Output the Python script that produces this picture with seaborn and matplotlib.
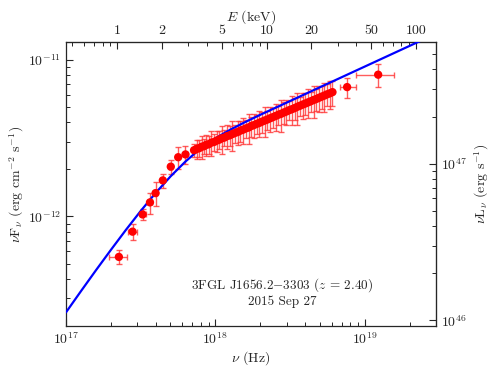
import numpy as np
import matplotlib
matplotlib.use("Agg")
import matplotlib.pyplot as plt
import matplotlib.ticker as mticker
import seaborn as sns

# low-energy points (nu in 1e17 Hz, flux in 1e-12 erg/cm2/s)
low_nu = [2.26, 2.79, 3.26, 3.65, 3.98, 4.45, 5.03, 5.64, 6.31]
low_f = [0.552, 0.800, 1.03, 1.23, 1.41, 1.70, 2.08, 2.39, 2.49]
low_ferr = [0.055, 0.095, 0.08, 0.19, 0.24, 0.18, 0.20, 0.37, 0.34]
low_nuerr = [0.32, 0.18, 0.15, 0.12, 0.10, 0.10, 0.10, 0.10, 0.10]

# dense band
band_nu = [7.2, 7.5, 7.8, 8.1, 8.4, 8.7, 9.0, 9.4, 9.8, 10.2, 10.6, 11.0, 11.5,
           12.0, 12.5, 13.0, 13.5, 14.1, 14.7, 15.3, 16.0, 16.7, 17.4, 18.1,
           18.9, 19.7, 20.5, 21.4, 22.3, 23.3, 24.3, 25.3, 26.4, 27.5, 28.7,
           29.9, 31.2, 32.5, 33.9, 35.3, 36.8, 38.4, 40.0, 41.7, 43.5, 45.4,
           47.3, 49.3, 51.4, 53.6, 55.9, 58.3, 60.8]
band_f = [2.65, 2.70, 2.73, 2.79, 2.81, 2.87, 2.89, 2.96, 2.99, 3.05, 3.09, 3.15,
          3.19, 3.26, 3.30, 3.36, 3.41, 3.46, 3.53, 3.58, 3.65, 3.70, 3.78, 3.83,
          3.90, 3.96, 4.03, 4.10, 4.16, 4.24, 4.31, 4.38, 4.46, 4.52, 4.61, 4.68,
          4.77, 4.84, 4.92, 5.01, 5.09, 5.18, 5.26, 5.35, 5.44, 5.54, 5.62, 5.72,
          5.82, 5.91, 6.02, 6.11, 6.22]
band_rel_err = [0.10, 0.14, 0.12, 0.17, 0.11, 0.15, 0.13, 0.18, 0.12, 0.16,
                0.13, 0.20, 0.12, 0.17, 0.14, 0.22, 0.13, 0.17, 0.15, 0.19,
                0.13, 0.22, 0.15, 0.17, 0.14, 0.19, 0.15, 0.22, 0.14, 0.18,
                0.15, 0.20, 0.14, 0.23, 0.16, 0.18, 0.14, 0.21, 0.16, 0.23,
                0.14, 0.19, 0.16, 0.21, 0.15, 0.23, 0.16, 0.19, 0.17, 0.21,
                0.16, 0.20, 0.18]

# high-energy points
high_nu = [76.2, 123.0]
high_f = [6.70, 8.04]
high_ferr = [1.0, 1.35]
high_nu_lo = [8.2, 35.0]
high_nu_hi = [11.8, 33.0]

# model curve (log10 nu, log10 nuFnu)
curve_lognu = [17.00, 17.10, 17.20, 17.30, 17.40, 17.50, 17.60, 17.70, 17.80,
               17.90, 18.00, 18.10, 18.20, 18.30, 18.50, 18.75, 19.00, 19.25, 19.48]
curve_logf = [-12.612, -12.477, -12.344, -12.214, -12.087, -11.965, -11.850,
              -11.744, -11.649, -11.566, -11.501, -11.446, -11.397, -11.351,
              -11.263, -11.153, -11.043, -10.933, -10.832]

kev_hz = 2.2e17
lum_factor = 4.6e58

sns.set_style("ticks")
plt.rcParams["font.family"] = "serif"
plt.rcParams["font.serif"] = ["cmr10"]
plt.rcParams["mathtext.fontset"] = "cm"
plt.rcParams["axes.unicode_minus"] = False
plt.rcParams["axes.formatter.use_mathtext"] = True

fig = plt.figure(figsize=(4.91, 3.70), dpi=100)
ax = fig.add_axes([0.1344, 0.119, 0.7536, 0.7675])

red = "#ff0000"
ecol = (1.0, 0.2, 0.2, 0.8)

# error bars
ax.errorbar(np.array(low_nu) * 1e17, np.array(low_f) * 1e-12,
            yerr=np.array(low_ferr) * 1e-12, xerr=np.array(low_nuerr) * 1e17,
            fmt="none", ecolor=ecol, elinewidth=1.0, capsize=2.2, capthick=1.0)
band_err = np.array(band_f) * np.array(band_rel_err) * 1e-12
ax.errorbar(np.array(band_nu) * 1e17, np.array(band_f) * 1e-12, yerr=band_err,
            fmt="none", ecolor=ecol, elinewidth=1.0, capsize=2.2, capthick=1.0)
ax.errorbar(np.array(high_nu) * 1e17, np.array(high_f) * 1e-12,
            yerr=np.array(high_ferr) * 1e-12,
            xerr=[np.array(high_nu_lo) * 1e17, np.array(high_nu_hi) * 1e17],
            fmt="none", ecolor=ecol, elinewidth=1.0, capsize=2.2, capthick=1.0)

# model
sns.lineplot(x=10 ** np.array(curve_lognu), y=10 ** np.array(curve_logf),
             color="#0000ff", lw=1.6, ax=ax, zorder=3, sort=False)

# markers
all_nu = np.concatenate([low_nu, band_nu, high_nu]) * 1e17
all_f = np.concatenate([low_f, band_f, high_f]) * 1e-12
sns.scatterplot(x=all_nu, y=all_f, color=red, s=36, edgecolor="none", ax=ax, zorder=4)

ax.set_xscale("log")
ax.set_yscale("log")
ax.set_xlim(1e17, 3e19)
ax.set_ylim(2.0e-13, 1.3e-11)

ax.tick_params(which="both", direction="in", top=False, right=False, labelsize=10)
ax.tick_params(which="major", length=5, width=0.8)
ax.tick_params(which="minor", length=2.8, width=0.7)
ax.xaxis.set_minor_formatter(mticker.NullFormatter())
ax.yaxis.set_minor_formatter(mticker.NullFormatter())

ax.set_xlabel(r"$\nu$ (Hz)", fontsize=10, labelpad=2)
ax.set_ylabel(r"$\nu$F$_\nu$ (erg cm$^{-2}$ s$^{-1}$)", fontsize=10, labelpad=1)

# top axis: energy
top = ax.secondary_xaxis("top", functions=(lambda n: n / kev_hz, lambda e: e * kev_hz))
top.set_xticks([1, 2, 5, 10, 20, 50, 100], labels=["1", "2", "5", "10", "20", "50", "100"])
top.xaxis.set_minor_locator(mticker.FixedLocator(
    [0.5, 0.6, 0.7, 0.8, 0.9, 3, 4, 6, 7, 8, 9, 30, 40, 60, 70, 80, 90]))
top.xaxis.set_minor_formatter(mticker.NullFormatter())
top.tick_params(which="both", direction="in", labelsize=10)
top.tick_params(which="major", length=5, width=0.8)
top.tick_params(which="minor", length=2.8, width=0.7)
top.set_xlabel(r"$E$ (keV)", fontsize=10, labelpad=3)

# right axis: luminosity
right = ax.secondary_yaxis("right", functions=(lambda f: f * lum_factor, lambda l: l / lum_factor))
right.yaxis.set_minor_formatter(mticker.NullFormatter())
right.tick_params(which="both", direction="in", labelsize=10)
right.tick_params(which="major", length=5, width=0.8)
right.tick_params(which="minor", length=2.8, width=0.7)
right.set_ylabel(r"$\nu$L$_\nu$ (erg s$^{-1}$)", fontsize=10, labelpad=4)

for s in ax.spines.values():
    s.set_linewidth(0.9)

ax.text(0.584, 0.118, "3FGL J1656.2$-$3303 ($z$ = 2.40)\n2015 Sep 27",
        transform=ax.transAxes, ha="center", va="center", fontsize=9.5,
        linespacing=1.15)

fig.savefig("out.png", dpi=100)
